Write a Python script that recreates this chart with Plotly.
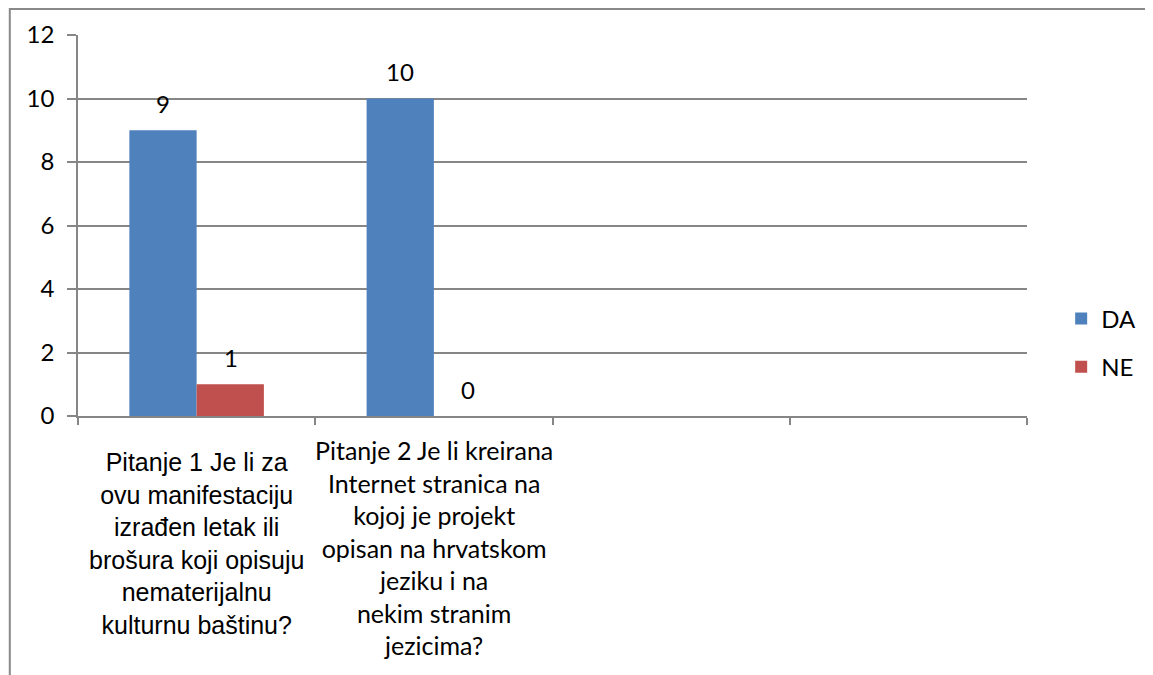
import plotly.graph_objects as go

# ---- data ----
categories = [
    "Pitanje 1 Je li za<br>ovu manifestaciju<br>izrađen letak ili<br>brošura koji opisuju<br>nematerijalnu<br>kulturnu baštinu?",
    "Pitanje 2 Je li kreirana<br>Internet stranica na<br>kojoj je projekt<br>opisan na hrvatskom<br>jeziku i na<br>nekim stranim<br>jezicima?",
    "",
    "",
]
series_names = ["DA", "NE"]
da_values = [9, 10, None, None]
ne_values = [1, 0, None, None]
y_ticks = [0, 2, 4, 6, 8, 10, 12]

# ---- style ----
PAGE_OFF = 8  # default body margin of the html page
W, H = 1153 - PAGE_OFF, 675 - PAGE_OFF
PL, PT = 78, 35          # plot-area top-left on the page
plot_w, plot_h = 960, 381
L, T = PL - PAGE_OFF, PT - PAGE_OFF
R = W - L - plot_w
B = H - T - plot_h
BLUE = "#4F81BD"
RED = "#C0504D"
GRID = "#868686"
BARGAP = 0.433
cat_fonts = ["Liberation Sans", "Lato"]
cat_sizes = [25, 25]
cat_tops = [-0.078, -0.044]

x_pos = list(range(len(categories)))

fig = go.Figure()
fig.add_trace(go.Bar(x=x_pos, y=da_values, name=series_names[0], marker_color=BLUE,
                     marker_line_width=0, legendgroup="a"))
fig.add_trace(go.Bar(x=x_pos, y=ne_values, name=series_names[1], marker_color=RED,
                     marker_line_width=0, legendgroup="b"))

annotations = []
# data labels
cat_px = plot_w / len(categories)
bar_px = cat_px * (1 - BARGAP) / 2
for vals, sign in ((da_values, -1), (ne_values, 1)):
    for i, v in enumerate(vals):
        if v is None:
            continue
        annotations.append(dict(x=i, y=v, xref="x", yref="y", text=str(v), showarrow=False,
                                xshift=sign * bar_px / 2, yshift=27, yanchor="middle",
                                font=dict(family="Lato", size=24, color="black")))
# category labels
for i, c in enumerate(categories):
    if not c:
        continue
    annotations.append(dict(x=i, y=cat_tops[i], xref="x", yref="paper", text=c, showarrow=False,
                            yanchor="top", xanchor="center", align="center",
                            font=dict(family=cat_fonts[i], size=cat_sizes[i], color="black")))

fig.update_layout(
    width=W, height=H, autosize=False,
    margin=dict(l=L, r=R, t=T, b=B, pad=0),
    paper_bgcolor="white", plot_bgcolor="white",
    barmode="group", bargap=BARGAP, bargroupgap=0,
    showlegend=True,
    legend=dict(x=1.036, y=0.192, xanchor="left", yanchor="middle",
                font=dict(family="Lato", size=24, color="black"),
                tracegroupgap=14, bgcolor="rgba(0,0,0,0)"),
    annotations=annotations,
    shapes=[dict(type="rect", xref="paper", yref="paper",
                 x0=(9 - PL) / plot_w, x1=(1153 + 10 - PL) / plot_w,
                 y0=(PT + plot_h - 685) / plot_h, y1=(PT + plot_h - 9) / plot_h,
                 line=dict(color="#898989", width=2), fillcolor="rgba(0,0,0,0)", layer="below")],
)
fig.update_xaxes(range=[-0.5, len(categories) - 0.5], tickmode="array",
                 tickvals=[i - 0.5 for i in range(len(categories) + 1)],
                 showticklabels=False, ticks="outside", ticklen=7, tickcolor=GRID, tickwidth=1.5,
                 showline=True, linecolor=GRID, linewidth=1.5, showgrid=False, zeroline=False)
fig.update_yaxes(range=[0, 12], tickmode="array", tickvals=y_ticks,
                 ticks="outside", ticklen=9, tickcolor=GRID, tickwidth=1.5,
                 showline=True, linecolor=GRID, linewidth=1.5,
                 showgrid=True, gridcolor=GRID, gridwidth=1.5, zeroline=False,
                 tickfont=dict(family="Lato", size=24, color="black"), ticklabelstandoff=8)

fig.write_html("out.html")
